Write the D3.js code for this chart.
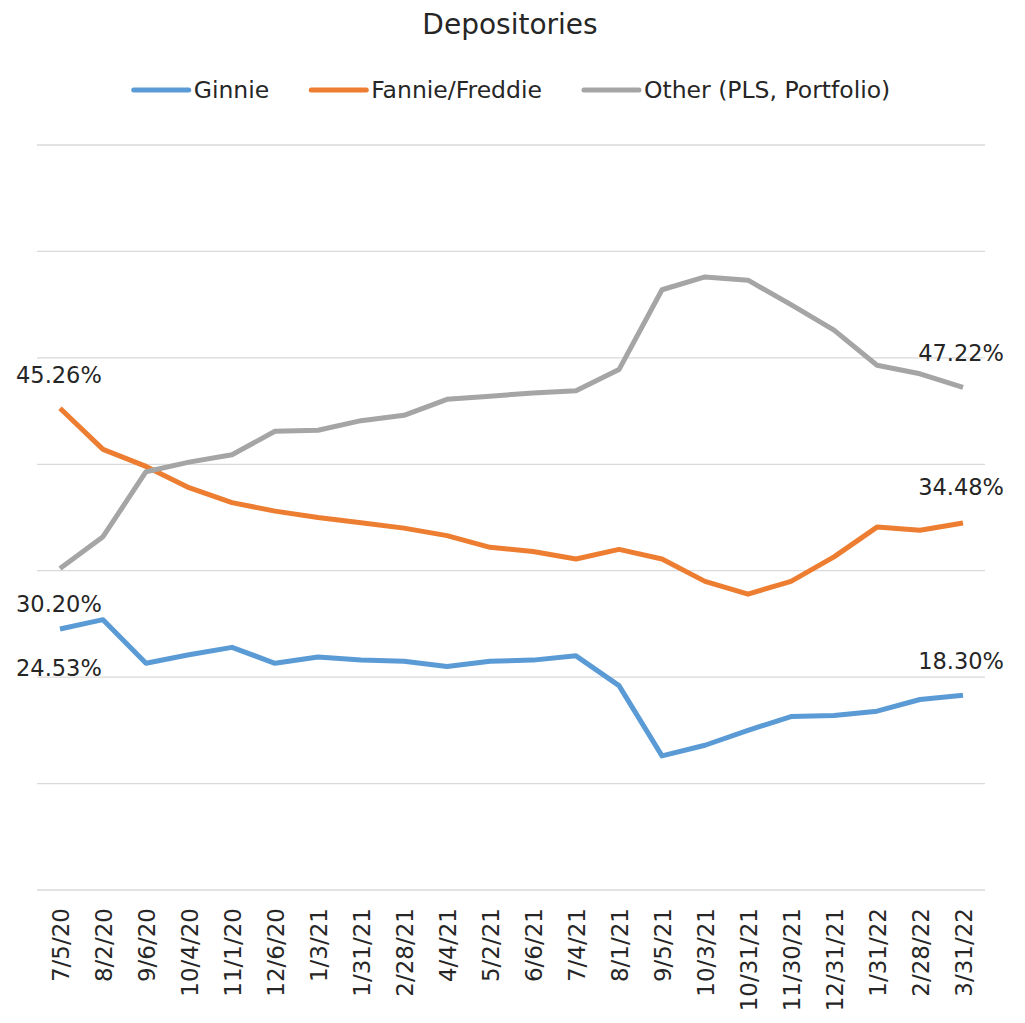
<!DOCTYPE html>
<html>
<head>
<meta charset="utf-8">
<script src="https://cdn.jsdelivr.net/npm/d3@7"></script>
<style>
  body { margin: 0; background: #fff; }
  text { font-family: "DejaVu Sans", sans-serif; fill: #262626; }
</style>
</head>
<body>
<svg width="1025" height="1023"></svg>
<script>
var dates = ["7/5/20", "8/2/20", "9/6/20", "10/4/20", "11/1/20", "12/6/20", "1/3/21", "1/31/21",
  "2/28/21", "4/4/21", "5/2/21", "6/6/21", "7/4/21", "8/1/21", "9/5/21", "10/3/21", "10/31/21",
  "11/30/21", "12/31/21", "1/31/22", "2/28/22", "3/31/22"];

var ginnie = [24.53, 25.4, 21.3, 22.1, 22.8, 21.3, 21.9, 21.6, 21.5, 21.0, 21.5, 21.6, 22.0,
  19.2, 12.6, 13.6, 15.0, 16.3, 16.4, 16.8, 17.9, 18.30];
var fannie = [45.26, 41.4, 39.8, 37.8, 36.4, 35.6, 35.0, 34.5, 34.0, 33.3, 32.2, 31.8, 31.1,
  32.0, 31.1, 29.0, 27.8, 29.0, 31.3, 34.1, 33.8, 34.48];
var other = [30.20, 33.2, 39.3, 40.2, 40.9, 43.1, 43.2, 44.1, 44.6, 46.1, 46.4, 46.7, 46.9,
  48.9, 56.4, 57.6, 57.3, 55.0, 52.6, 49.3, 48.5, 47.22];

var yTicks = [0, 10, 20, 30, 40, 50, 60, 70];

var series = [
  {name: "Ginnie", values: ginnie, color: "#5b9bd5", first: 39, last: -34},
  {name: "Fannie/Freddie", values: fannie, color: "#ed7d31", first: -33, last: -36},
  {name: "Other (PLS, Portfolio)", values: other, color: "#a5a5a5", first: 36, last: -34}
];

var svg = d3.select("svg");

var x = d3.scalePoint().domain(dates).range([60, 963]);
var y = d3.scaleLinear().domain([0, 70]).range([890, 145]);

// gridlines
svg.append("g")
  .selectAll("line")
  .data(yTicks)
  .enter()
  .append("line")
  .attr("x1", 37)
  .attr("x2", 985)
  .attr("y1", function(d) { return y(d); })
  .attr("y2", function(d) { return y(d); })
  .style("stroke", "#d9d9d9")
  .style("stroke-width", 1.3);

// x axis labels
var xAxis = svg.append("g")
  .attr("transform", "translate(0,897)")
  .call(d3.axisBottom(x).tickSize(0));
xAxis.select(".domain").remove();
xAxis.selectAll("text")
  .attr("transform", "rotate(-90)")
  .attr("x", -11)
  .attr("y", 0)
  .attr("dy", "0.35em")
  .attr("text-anchor", "end")
  .style("font-family", "DejaVu Sans")
  .style("font-size", "23px")
  .style("fill", "#262626");

var line = d3.line()
  .x(function(d, i) { return x(dates[i]); })
  .y(function(d) { return y(d); });

svg.append("g")
  .selectAll("path")
  .data(series)
  .enter()
  .append("path")
  .attr("d", function(d) { return line(d.values); })
  .style("fill", "none")
  .style("stroke", function(d) { return d.color; })
  .style("stroke-width", 5)
  .style("stroke-linejoin", "round");

// data labels on first and last points
series.forEach(function(s) {
  var n = s.values.length;
  svg.append("text")
    .attr("x", 16)
    .attr("y", y(s.values[0]) + s.first)
    .attr("dy", "0.35em")
    .style("font-size", "22.5px")
    .text(s.values[0].toFixed(2) + "%");
  svg.append("text")
    .attr("x", 1004)
    .attr("y", y(s.values[n - 1]) + s.last)
    .attr("dy", "0.35em")
    .attr("text-anchor", "end")
    .style("font-size", "22.5px")
    .text(s.values[n - 1].toFixed(2) + "%");
});

// title
svg.append("text")
  .attr("x", 510)
  .attr("y", 34)
  .attr("text-anchor", "middle")
  .style("font-size", "28px")
  .text("Depositories");

// legend
var legend = svg.append("g");
var lx = 0;
series.forEach(function(s) {
  var item = legend.append("g").attr("transform", "translate(" + lx + ",0)");
  item.append("line")
    .attr("x1", 0).attr("x2", 55)
    .attr("y1", 0).attr("y2", 0)
    .style("stroke", s.color)
    .style("stroke-width", 5)
    .style("stroke-linecap", "round");
  var t = item.append("text")
    .attr("x", 60)
    .attr("dy", "0.35em")
    .style("font-size", "23.5px")
    .text(s.name);
  lx += 60 + t.node().getComputedTextLength() + 42;
});
var lw = lx - 42;
legend.attr("transform", "translate(" + (512 - lw / 2) + ",90)");
</script>
</body>
</html>
